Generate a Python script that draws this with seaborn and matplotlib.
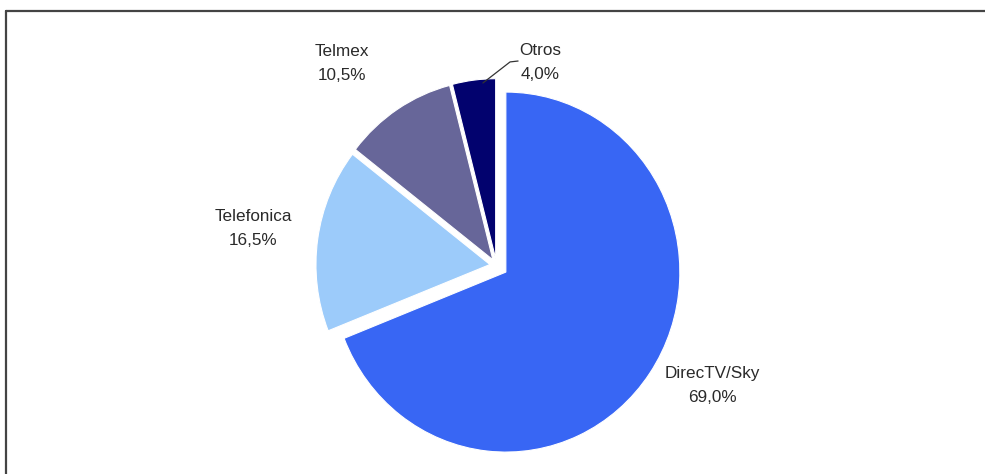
import matplotlib
matplotlib.use("Agg")
import matplotlib.pyplot as plt
from matplotlib.lines import Line2D
import seaborn as sns

sns.set_theme(style="white")
plt.rcParams['font.family'] = ['Liberation Sans', 'DejaVu Sans']

categories = ["DirecTV/Sky", "Telefonica", "Telmex", "Otros"]
shares = [69.0, 16.5, 10.5, 4.0]
pct_labels = ["69,0%", "16,5%", "10,5%", "4,0%"]

colors = ["#3866f4", "#9ccbfa", "#676699", "#02026e"]
explode = [0.065, 0.038, 0.038, 0.038]
# label positions (pie radius units, relative to pie centre)
label_pos = [(1.239, -0.669), (-1.399, 0.208), (-0.888, 1.12), (0.25, 1.126)]

fig = plt.figure(figsize=(9.85, 4.74), dpi=100)
fig.patch.set_facecolor("white")
ax = fig.add_axes([0, 0, 1, 1])

wedges, _ = ax.pie(shares, colors=colors, explode=explode, startangle=90,
                   counterclock=False, radius=1.0,
                   wedgeprops=dict(edgecolor="white", linewidth=0.8))

for cat, pct, (x, y) in zip(categories, pct_labels, label_pos):
    ax.text(x, y, f"{cat}\n{pct}", ha="center", va="center", fontsize=12.3,
            color="#2a2a2a", linespacing=1.75)

# leader line for Otros
ax.plot([-0.078, 0.078, 0.124], [1.014, 1.131, 1.136], color="#333333", lw=0.9)

rx, ry = 174.0, 180.0
cx, cy = 496.5, 265.5
ax.set_xlim(-cx / rx, (985 - cx) / rx)
ax.set_ylim(-(474 - cy) / ry, cy / ry)
ax.set_aspect("auto")
ax.axis("off")

# frame lines
fig.add_artist(Line2D([6 / 985, 1.0], [1 - 11 / 474, 1 - 11 / 474],
                      transform=fig.transFigure, color="#444444", lw=1.6))
fig.add_artist(Line2D([6 / 985, 6 / 985], [0, 1 - 11 / 474],
                      transform=fig.transFigure, color="#444444", lw=1.6))

fig.savefig("out.png", dpi=100, facecolor="white")
